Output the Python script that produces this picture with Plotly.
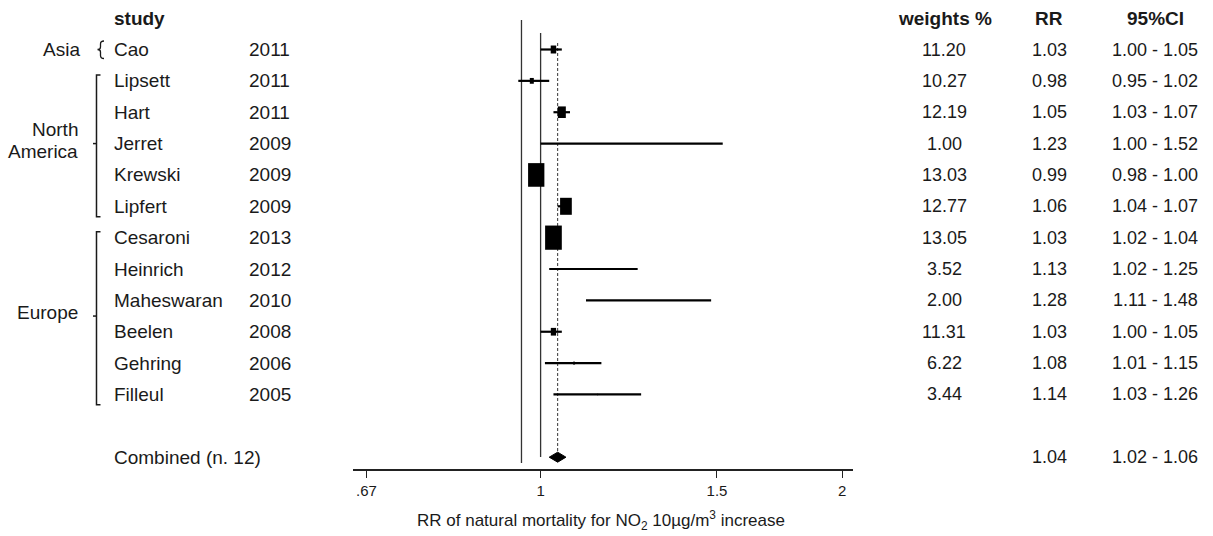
import math
import plotly.graph_objects as go

# ---------------- data ----------------
groups = ["Asia", "North\nAmerica", "Europe"]
group_sizes = [1, 5, 6]
studies = ["Cao", "Lipsett", "Hart", "Jerret", "Krewski", "Lipfert",
           "Cesaroni", "Heinrich", "Maheswaran", "Beelen", "Gehring", "Filleul"]
years = [2011, 2011, 2011, 2009, 2009, 2009, 2013, 2012, 2010, 2008, 2006, 2005]
weights_pct = [11.20, 10.27, 12.19, 1.00, 13.03, 12.77, 13.05, 3.52, 2.00, 11.31, 6.22, 3.44]
rr = [1.03, 0.98, 1.05, 1.23, 0.99, 1.06, 1.03, 1.13, 1.28, 1.03, 1.08, 1.14]
ci_lo = [1.00, 0.95, 1.03, 1.00, 0.98, 1.04, 1.02, 1.02, 1.11, 1.00, 1.01, 1.03]
ci_hi = [1.05, 1.02, 1.07, 1.52, 1.00, 1.07, 1.04, 1.25, 1.48, 1.05, 1.15, 1.26]
box_weight = [3.66, 1.93, 7.74, 0.0, 32.1, 16.6, 33.7, 0.27, 0.0, 3.40, 0.48, 0.12]
combined_label = "Combined (n. 12)"
combined_rr = 1.04
combined_lo = 1.02
combined_hi = 1.06
ref_line = 0.957
tick_vals = [0.67, 1, 1.5, 2]
tick_text = [".67", "1", "1.5", "2"]
x_title = "RR of natural mortality for NO<sub>2</sub> 10µg/m<sup>3</sup> increase"

# ---------------- layout helpers ----------------
W, H = 1213, 536
ROW0_PX, ROW_PX = 49.5, 31.36          # pixel centre of row 0 and row pitch
AXIS_PX = 469                           # pixel y of x axis line
X0_PX, X1_PX = 353, 853                 # x axis extent in pixels
ONE_PX = 540.6                          # pixel of RR = 1
PX_PER_LN = 1001.6 / math.log(10)
FONT = "Liberation Sans, Arial, sans-serif"
TXT = "#1a1a1a"


def px_x(p):
    return p / W


def px_to_row(p):
    return (p - ROW0_PX) / ROW_PX


n = len(studies)
rows = list(range(n))
comb_row = n + 1

fig = go.Figure()

# vertical reference lines
fig.add_trace(go.Scatter(x=[ref_line, ref_line], y=[px_to_row(20), px_to_row(463)], mode="lines",
                         line=dict(color="#333", width=1.3), hoverinfo="skip"))
fig.add_trace(go.Scatter(x=[1, 1], y=[px_to_row(33), px_to_row(457)], mode="lines",
                         line=dict(color="#333", width=1.3), hoverinfo="skip"))
fig.add_trace(go.Scatter(x=[combined_rr, combined_rr], y=[px_to_row(43), px_to_row(452)], mode="lines",
                         line=dict(color="#333", width=1, dash="3px,2px"), hoverinfo="skip"))

# confidence interval lines
cx, cy = [], []
for i in range(n):
    cx += [ci_lo[i], ci_hi[i], None]
    cy += [rows[i], rows[i], None]
fig.add_trace(go.Scatter(x=cx, y=cy, mode="lines", line=dict(color="black", width=2.2),
                         hoverinfo="skip"))

# combined diamond
dh = 5.0 / ROW_PX
fig.add_trace(go.Scatter(x=[combined_lo, combined_rr, combined_hi, combined_rr, combined_lo],
                         y=[comb_row, comb_row - dh, comb_row, comb_row + dh, comb_row],
                         mode="lines", fill="toself", fillcolor="black",
                         line=dict(color="black", width=1), hoverinfo="skip"))

shapes = []
# weight boxes: area proportional to weight, centred on the estimate
k = 2.877
for i in range(n):
    w = k * box_weight[i] ** 0.5
    if w <= 0:
        continue
    h = w * 1.45
    half_ln = (w / 2) / PX_PER_LN
    shapes.append(dict(type="rect", xref="x", yref="y",
                       x0=rr[i] * math.exp(-half_ln), x1=rr[i] * math.exp(half_ln),
                       y0=rows[i] - h / 2 / ROW_PX, y1=rows[i] + h / 2 / ROW_PX,
                       fillcolor="black", line=dict(width=0)))

annotations = []


def add_text(x_px, row, text, anchor="left", size=19, bold=False, yref="y"):
    if bold:
        text = "<b>" + text + "</b>"
    annotations.append(dict(x=px_x(x_px), y=row, xref="paper", yref=yref, text=text,
                            showarrow=False, xanchor=anchor, yanchor="middle",
                            font=dict(family=FONT, size=size, color=TXT)))


# headers
add_text(112, -1, "study", bold=True)
add_text(945, -1, "weights %", anchor="center", bold=True)
add_text(1049, -1, "RR", anchor="center", bold=True)
add_text(1155, -1, "95%CI", anchor="center", bold=True)

for i in range(n):
    add_text(112, rows[i], studies[i])
    add_text(247, rows[i], str(years[i]))
    add_text(944, rows[i], f"{weights_pct[i]:.2f}", anchor="center", size=18)
    add_text(1049, rows[i], f"{rr[i]:.2f}", anchor="center", size=18)
    add_text(1155, rows[i], f"{ci_lo[i]:.2f} - {ci_hi[i]:.2f}", anchor="center", size=18)

add_text(112, comb_row, combined_label)
add_text(1049, comb_row, f"{combined_rr:.2f}", anchor="center", size=18)
add_text(1155, comb_row, f"{combined_lo:.2f} - {combined_hi:.2f}", anchor="center", size=18)

# group labels and brackets
start = 0
line_gap = 22 / ROW_PX
for g, sz in zip(groups, group_sizes):
    first, last = start, start + sz - 1
    mid = (first + last) / 2
    lines = g.split("\n")
    for j, ln in enumerate(lines):
        off = (j - (len(lines) - 1) / 2) * line_gap
        add_text(82 if sz == 1 else 80, mid - (0.1 if sz > 1 else 0) + off, ln, anchor="right")
    if sz == 1:
        # small curly brace
        def P(xp, yp):
            return f"{px_x(xp):.5f},{px_to_row(yp) + first:.4f}"
        y0 = ROW0_PX
        path = (f"M {P(104, y0 - 8.5)} Q {P(100.5, y0 - 8.5)} {P(100.5, y0 - 5.5)} "
                f"L {P(100.5, y0 - 2.5)} Q {P(100.5, y0)} {P(97.5, y0)} "
                f"Q {P(100.5, y0)} {P(100.5, y0 + 2.5)} L {P(100.5, y0 + 6)} "
                f"Q {P(100.5, y0 + 9)} {P(104, y0 + 9)}")
        shapes.append(dict(type="path", xref="paper", yref="y", path=path,
                           line=dict(color=TXT, width=1.3)))
    else:
        top, bot = first - 0.19, last + 0.33
        bx = px_x(96.5)
        shapes.append(dict(type="path", xref="paper", yref="y",
                           path=f"M {px_x(100.5):.5f},{top} L {bx:.5f},{top} L {bx:.5f},{bot} L {px_x(100.5):.5f},{bot}",
                           line=dict(color=TXT, width=1.5)))
        shapes.append(dict(type="line", xref="paper", yref="y", x0=px_x(93), x1=bx, y0=mid, y1=mid,
                           line=dict(color=TXT, width=1.5)))
    start += sz

# x axis title
annotations.append(dict(x=px_x(601), y=1 - 520 / H, xref="paper", yref="paper", text=x_title,
                        showarrow=False, xanchor="center", yanchor="middle",
                        font=dict(family=FONT, size=17, color=TXT)))

fig.update_layout(
    width=W, height=H, margin=dict(l=0, r=0, t=0, b=0),
    paper_bgcolor="white", plot_bgcolor="white", showlegend=False,
    shapes=shapes, annotations=annotations,
    xaxis=dict(type="log", domain=[X0_PX / W, X1_PX / W],
               range=[math.log10(tick_vals[1]) - (ONE_PX - X0_PX) / 1001.6,
                      math.log10(tick_vals[1]) + (X1_PX - ONE_PX) / 1001.6],
               tickvals=tick_vals, ticktext=tick_text, ticks="outside", ticklen=7, tickwidth=1.3,
               tickcolor="#222", showline=True, linecolor="#222", linewidth=1.5,
               showgrid=False, zeroline=False, tickfont=dict(family=FONT, size=15, color=TXT)),
    yaxis=dict(domain=[(H - AXIS_PX) / H, 1], range=[px_to_row(AXIS_PX), px_to_row(0)],
               visible=False, showgrid=False, zeroline=False),
)

fig.write_html("out.html", config={"displayModeBar": False},
               post_script="document.body.style.margin='0px';")
